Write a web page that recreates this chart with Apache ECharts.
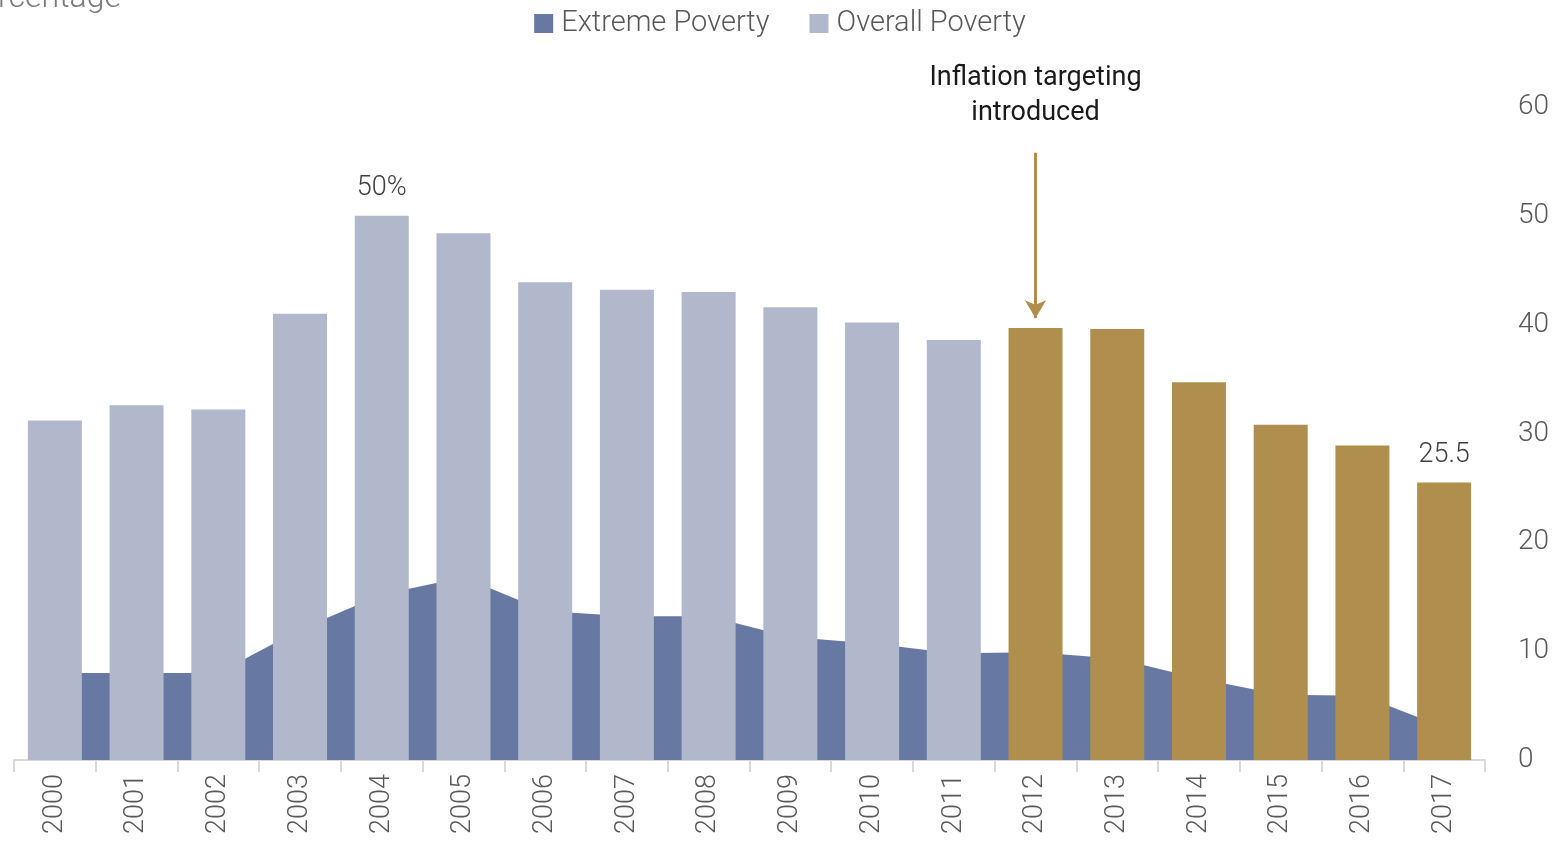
<!DOCTYPE html>
<html>
<head>
<meta charset="utf-8">
<script src="https://cdn.jsdelivr.net/npm/echarts@6/dist/echarts.min.js"></script>
<style>
  html, body { margin: 0; padding: 0; background: #fff; }
  #chart { width: 1560px; height: 846px; }
</style>
</head>
<body>
<div id="chart"></div>
<script>
// data
var years = ['2000', '2001', '2002', '2003', '2004', '2005', '2006', '2007', '2008',
             '2009', '2010', '2011', '2012', '2013', '2014', '2015', '2016', '2017'];
var extremePoverty = [8.0, 8.0, 8.0, 12.0, 15.2, 16.8, 13.7, 13.2, 13.2,
                      11.3, 10.7, 9.8, 9.9, 9.3, 7.5, 6.0, 5.9, 3.0];
var overallPoverty = [31.2, 32.6, 32.2, 41.0, 50.0, 48.4, 43.9, 43.2, 43.0,
                      41.6, 40.2, 38.6, 39.7, 39.6, 34.7, 30.8, 28.9, 25.5];
var yTicks = [0, 10, 20, 30, 40, 50, 60];
var targetingFrom = '2012';
var labelled = { '2004': '50%', '2017': '25.5' };

var grey = '#b1b8cb';
var gold = '#b08f4e';
var navy = '#6779a3';
var textCol = '#595959';
var fontFam = 'Roboto, "Noto Sans", sans-serif';

var barData = overallPoverty.map(function (v, i) {
    var item = { value: v };
    if (years[i] >= targetingFrom) {
        item.itemStyle = { color: gold };
    }
    if (labelled[years[i]]) {
        item.label = {
            show: true,
            position: 'top',
            distance: 14,
            formatter: labelled[years[i]],
            color: '#404040',
            fontSize: 27,
            fontFamily: fontFam,
            fontWeight: 300
        };
    }
    return item;
});

var chart = echarts.init(document.getElementById('chart'));

var option = {
    animation: false,
    textStyle: { fontFamily: fontFam },
    grid: { left: 14, right: 75, top: 107, bottom: 86, containLabel: false },
    legend: {
        top: 4,
        left: 'center',
        itemWidth: 19,
        itemHeight: 19,
        itemGap: 40,
        icon: 'rect',
        textStyle: { color: textCol, fontSize: 29, fontFamily: fontFam, fontWeight: 300, padding: [0, 0, 0, 3] },
        data: ['Extreme Poverty', 'Overall Poverty']
    },
    graphic: [{
        type: 'text',
        left: -38,
        top: -17,
        style: {
            text: 'Percentage',
            fontSize: 32,
            fontFamily: fontFam,
            fontWeight: 300,
            fill: '#7a7a7a'
        }
    }],
    xAxis: {
        type: 'category',
        data: years,
        boundaryGap: true,
        axisLine: { lineStyle: { color: '#d9d9d9', width: 2 } },
        axisTick: { show: true, length: 12, lineStyle: { color: '#d9d9d9', width: 2 } },
        axisLabel: {
            rotate: 90,
            margin: 14,
            color: textCol,
            fontSize: 27,
            fontFamily: fontFam,
            fontWeight: 300
        },
        splitLine: { show: false }
    },
    yAxis: {
        type: 'value',
        position: 'right',
        min: yTicks[0],
        max: yTicks[yTicks.length - 1],
        interval: 10,
        axisLine: { show: false },
        axisTick: { show: false },
        splitLine: { show: false },
        axisLabel: {
            margin: 33,
            color: textCol,
            fontSize: 28,
            fontFamily: fontFam,
            fontWeight: 300
        }
    },
    series: [
        {
            name: 'Extreme Poverty',
            type: 'line',
            z: 1,
            data: extremePoverty,
            symbol: 'none',
            lineStyle: { width: 0 },
            itemStyle: { color: navy },
            areaStyle: { color: navy, opacity: 1 }
        },
        {
            name: 'Overall Poverty',
            type: 'bar',
            z: 3,
            data: barData,
            barWidth: 54,
            itemStyle: { color: grey },
            markLine: {
                silent: true,
                symbol: ['none', 'arrow'],
                symbolSize: [16, 18],
                lineStyle: { color: gold, width: 3, type: 'solid' },
                label: {
                    show: true,
                    position: 'start',
                    distance: 22,
                    formatter: 'Inflation targeting\nintroduced',
                    color: '#1a1a1a',
                    fontSize: 27,
                    lineHeight: 35,
                    fontFamily: fontFam
                },
                data: [[
                    { coord: [targetingFrom, 55.8] },
                    { coord: [targetingFrom, 40.6] }
                ]]
            }
        }
    ]
};

chart.setOption(option);
</script>
</body>
</html>
